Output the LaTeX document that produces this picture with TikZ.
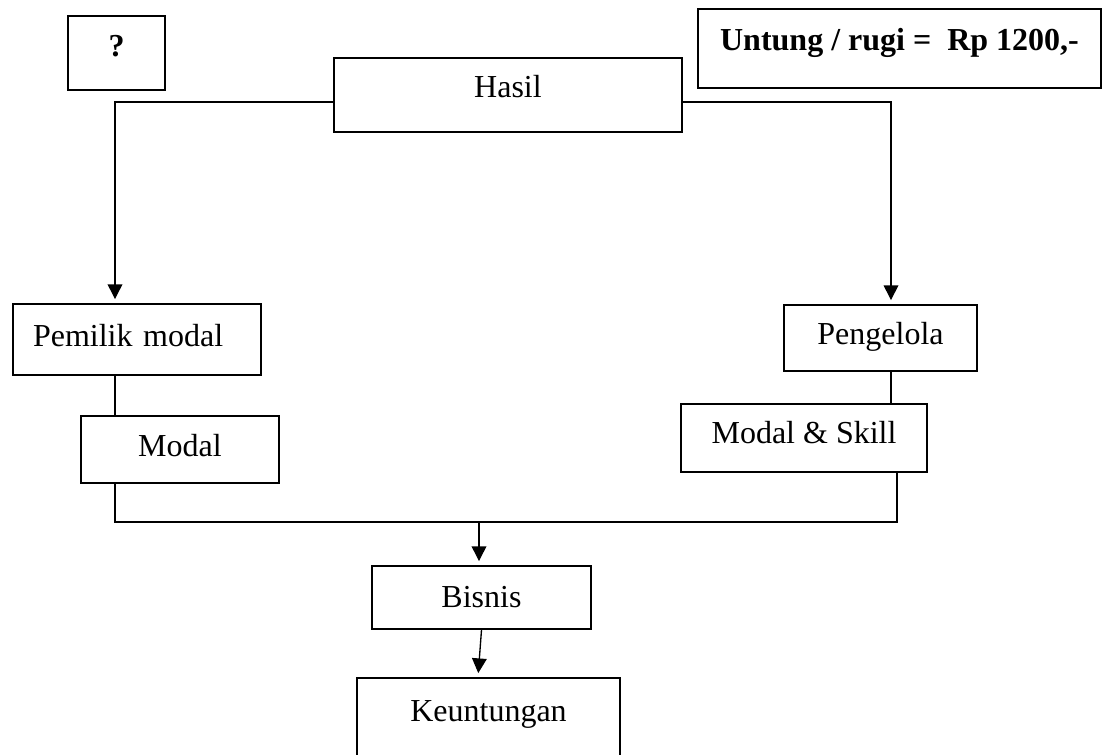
\documentclass[tikz,border=0pt]{standalone}
\usepackage{fontspec}
\setmainfont{Liberation Serif}
\usetikzlibrary{arrows.meta,calc}

\begin{document}
\begin{tikzpicture}[x=0.75pt,y=-0.75pt,font=\fontsize{24pt}{28pt}\selectfont]
\tikzstyle{block} = [rectangle, draw, line width=1.4pt, inner sep=0pt,
text height=16pt, text centered]
\tikzstyle{line} = [draw, line width=1pt, -{Triangle[width=11pt,length=11pt]}, shorten >=3pt];
\tikzstyle{link} = [draw, line width=1pt];

\useasboundingbox (0,0) rectangle (1103,755);

% top row
\node [block, minimum width=72.8pt, minimum height=55.5pt, text depth=10.9pt] (tanya) at (116.5,53) {\bfseries ?};
\node [block, minimum width=302.3pt, minimum height=59.3pt, text depth=13.2pt] (untung) at (899.5,48.5) {\bfseries Untung / rugi =\ \ Rp 1200,-};
\node [block, minimum width=261pt, minimum height=55.5pt, text depth=11.6pt] (hasil) at (508,95) {Hasil};
% the two sides
\node [block, minimum width=186pt, minimum height=53.3pt, text depth=5.6pt, text width=156pt, align=left] (pemilik) at (137,339.5) {Pemilik modal};
\node [block, minimum width=148.5pt, minimum height=50.3pt, text depth=4.9pt] (modal) at (180,449.5) {Modal};
\node [block, minimum width=144.8pt, minimum height=49.5pt, text depth=6.4pt] (pengelola) at (880.5,338) {Pengelola};
\node [block, minimum width=184.5pt, minimum height=51pt, text depth=7.2pt] (skill) at (804,438) {Modal \& Skill};
% bottom
\node [block, minimum width=164.3pt, minimum height=47.3pt, text depth=1pt] (bisnis) at (481.5,597.5) {Bisnis};
\node [block, minimum width=197.3pt, minimum height=60pt, text depth=10.2pt] (untungan) at (488.5,718) {Keuntungan};

\coordinate (kiri) at (115,0);
\coordinate (kanan) at (891,0);
\coordinate (kanan2) at (897,0);
\coordinate (bus) at (479,522);

\path [line] ([yshift=-5.25pt]hasil.west) -| (kiri |- pemilik.north);
\path [line] ([yshift=-5.25pt]hasil.east) -| (kanan |- pengelola.north);
\path [link] (kiri |- pemilik.south) -- (kiri |- modal.north);
\path [link] (kanan |- pengelola.south) -- (kanan |- skill.north);
\path [link] (kiri |- modal.south) |- (bus) -| (kanan2 |- skill.south);
\path [line] (bus) -- (bus |- bisnis.north);
\path [line] (bisnis.south) -- ([xshift=-7.9pt]untungan.north);

\end{tikzpicture}
\end{document}
